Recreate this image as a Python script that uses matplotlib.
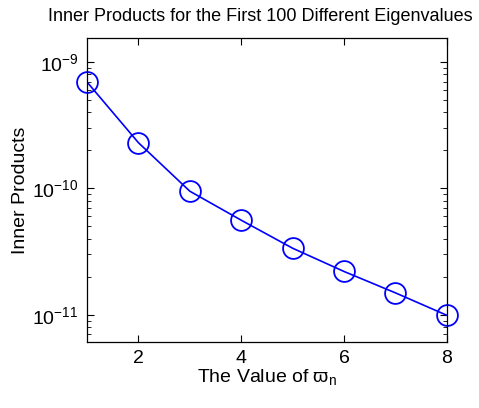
import matplotlib
matplotlib.use("Agg")
import matplotlib.pyplot as plt
from matplotlib.ticker import LogLocator, NullFormatter

plt.rcParams['font.family'] = ['Liberation Sans', 'DejaVu Sans']
plt.rcParams['mathtext.fontset'] = 'custom'
plt.rcParams['mathtext.rm'] = 'Liberation Sans'
plt.rcParams['mathtext.it'] = 'Liberation Sans'
plt.rcParams['mathtext.fallback'] = 'cm'

x_vals = [1, 2, 3, 4, 5, 6, 7, 8]
inner_products = [6.95e-10, 2.3e-10, 9.5e-11, 5.6e-11, 3.36e-11, 2.2e-11, 1.49e-11, 9.9e-12]
x_ticks = [2, 4, 6, 8]

fig = plt.figure(figsize=(4.79, 4.08), dpi=100)
ax = fig.add_axes([0.1816, 0.162, 0.7514, 0.745])

ax.semilogy(x_vals, inner_products, '-', color='#0000ff', linewidth=1.2)
ax.semilogy(x_vals, inner_products, 'o', color='#0000ff', markerfacecolor='none',
            markersize=15, markeredgewidth=1.3, clip_on=False)

ax.set_xlim(1, 8)
ax.set_ylim(6.1e-12, 1.55e-9)
ax.set_xticks(x_ticks)
ax.set_xticklabels([str(t) for t in x_ticks])
ax.yaxis.set_major_locator(LogLocator(base=10, numticks=10))
ax.yaxis.set_minor_locator(LogLocator(base=10, subs=range(2, 10), numticks=20))
ax.yaxis.set_minor_formatter(NullFormatter())

ax.tick_params(which='both', direction='in', top=True, right=True, labelsize=14, pad=6)
ax.tick_params(which='major', length=5, width=0.8)
ax.tick_params(which='minor', length=3, width=0.6)
ax.tick_params(axis='x', which='minor', bottom=False, top=False)
for s in ax.spines.values():
    s.set_linewidth(0.9)

ax.set_title('Inner Products for the First 100 Different Eigenvalues', fontsize=13,
             pad=12, x=0.482)
ax.set_xlabel(r'The Value of $\varpi_{n}$', fontsize=14, labelpad=0)
ax.set_ylabel('Inner Products', fontsize=14, labelpad=2)

fig.savefig('out.png', dpi=100)
